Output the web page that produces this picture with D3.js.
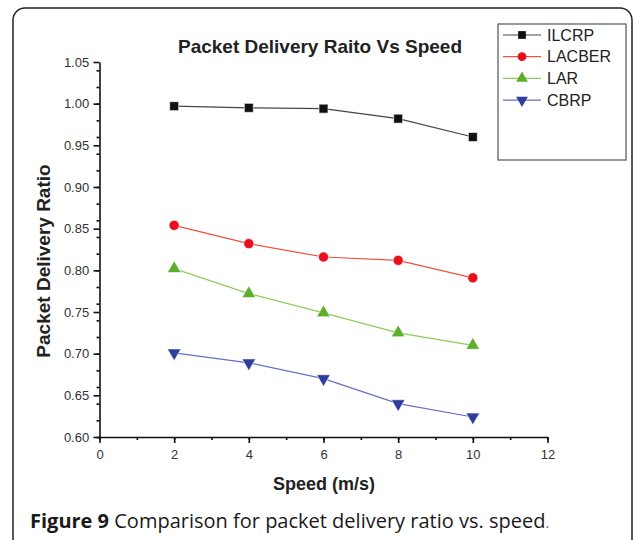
<!DOCTYPE html>
<html lang="en">
<head>
<meta charset="UTF-8">
<title>Packet Delivery Ratio Vs Speed</title>
<style>
  html, body { margin: 0; padding: 0; background: #fff; }
  svg { display: block; }
</style>
</head>
<body>
<svg id="chart" width="634" height="540"></svg>
<script src="https://cdn.jsdelivr.net/npm/d3@7"></script>
<script>
// data
var speeds = [2, 4, 6, 8, 10];
var ilcrp  = [0.997, 0.995, 0.994, 0.982, 0.960];
var lacber = [0.854, 0.832, 0.816, 0.812, 0.791];
var lar    = [0.802, 0.772, 0.749, 0.725, 0.710];
var cbrp   = [0.701, 0.689, 0.670, 0.640, 0.624];
var seriesNames = ["ILCRP", "LACBER", "LAR", "CBRP"];
var xTicks = [0, 2, 4, 6, 8, 10, 12];
var yTicks = [0.60, 0.65, 0.70, 0.75, 0.80, 0.85, 0.90, 0.95, 1.00, 1.05];

var series = [
  {name: seriesNames[0], values: ilcrp,  line: "#444", fill: "#111", sym: d3.symbolSquare},
  {name: seriesNames[1], values: lacber, line: "#f0503c", fill: "#e8101c", sym: d3.symbolCircle},
  {name: seriesNames[2], values: lar,    line: "#8ccc5a", fill: "#5cae2c", sym: d3.symbolTriangle},
  {name: seriesNames[3], values: cbrp,   line: "#6470c0", fill: "#2e3e9a", sym: "down"}
];

var svg = d3.select("#chart");
var font = "Liberation Sans, Arial, sans-serif";

// rounded figure frame
svg.append("rect")
  .attr("x", 13).attr("y", 8)
  .attr("width", 619).attr("height", 545)
  .attr("rx", 12)
  .attr("fill", "none")
  .attr("stroke", "#222")
  .attr("stroke-width", 1.5);

var x = d3.scaleLinear().domain([0, 12]).range([99.5, 547.5]);
var y = d3.scaleLinear().domain([0.60, 1.05]).range([437, 62]);

// minor ticks
svg.append("g")
  .attr("transform", "translate(0,437)")
  .call(d3.axisBottom(x).ticks(12).tickSize(3).tickFormat(""))
  .call(function (g) { g.select(".domain").remove(); });
svg.append("g")
  .attr("transform", "translate(99.5,0)")
  .call(d3.axisLeft(y).ticks(18).tickSize(3).tickFormat(""))
  .call(function (g) { g.select(".domain").remove(); });

var xAxis = svg.append("g")
  .attr("transform", "translate(0,437)")
  .call(d3.axisBottom(x).tickValues(xTicks).tickSize(6).tickSizeOuter(0).tickFormat(d3.format("d")));
var yAxis = svg.append("g")
  .attr("transform", "translate(99.5,0)")
  .call(d3.axisLeft(y).tickValues(yTicks).tickSize(6).tickSizeOuter(0).tickFormat(d3.format(".2f")));

svg.selectAll(".tick line, .domain").attr("stroke", "#111").attr("stroke-width", 1.6);
xAxis.selectAll("text").attr("font-family", font)
  .attr("font-size", 13).attr("fill", "#333").attr("dy", "1.0em");
yAxis.selectAll("text").attr("font-family", font)
  .attr("font-size", 13).attr("fill", "#333").attr("dx", "-0.1em");

// lines and markers
var line = d3.line()
  .x(function (d, i) { return x(speeds[i]); })
  .y(function (d) { return y(d); });

function symbolPath(s, size) {
  if (s === "down") {
    return d3.symbol().type(d3.symbolTriangle).size(size)();
  }
  return d3.symbol().type(s).size(size)();
}

series.forEach(function (s) {
  svg.append("path")
    .datum(s.values)
    .attr("d", line)
    .attr("fill", "none")
    .attr("stroke", s.line)
    .attr("stroke-width", 1.2);

  svg.selectAll(null)
    .data(s.values)
    .enter().append("path")
    .attr("d", symbolPath(s.sym, 80))
    .attr("transform", function (d, i) {
      return "translate(" + x(speeds[i]) + "," + y(d) + ")" + (s.sym === "down" ? " rotate(180)" : "");
    })
    .attr("fill", s.fill)
    .attr("stroke", "#fff")
    .attr("stroke-width", 0.6);
});

// legend
var legend = svg.append("g");
legend.append("rect")
  .attr("x", 498).attr("y", 24).attr("width", 128).attr("height", 136)
  .attr("fill", "#fff").attr("stroke", "#555").attr("stroke-width", 1.2);

series.forEach(function (s, i) {
  var ly = 35 + i * 21.7;
  legend.append("line")
    .attr("x1", 503).attr("x2", 541).attr("y1", ly).attr("y2", ly)
    .attr("stroke", s.line).attr("stroke-width", 1.2);
  legend.append("path")
    .attr("d", symbolPath(s.sym, 60))
    .attr("transform", "translate(522," + ly + ")" + (s.sym === "down" ? " rotate(180)" : ""))
    .attr("fill", s.fill);
  legend.append("text")
    .attr("x", 547).attr("y", ly).attr("dy", "0.36em")
    .attr("font-family", font)
    .attr("font-size", 16).attr("fill", "#222")
    .text(s.name);
});

// titles
svg.append("text")
  .attr("x", 320).attr("y", 53)
  .attr("text-anchor", "middle")
  .attr("font-family", font)
  .attr("font-weight", "bold").attr("font-size", 19).attr("fill", "#222")
  .text("Packet Delivery Raito Vs Speed");

svg.append("text")
  .attr("x", 324).attr("y", 490)
  .attr("text-anchor", "middle")
  .attr("font-family", font)
  .attr("font-weight", "bold").attr("font-size", 18).attr("fill", "#222")
  .text("Speed (m/s)");

svg.append("text")
  .attr("transform", "translate(50,261) rotate(-90)")
  .attr("text-anchor", "middle")
  .attr("font-family", font)
  .attr("font-weight", "bold").attr("font-size", 19).attr("fill", "#222")
  .text("Packet Delivery Ratio");

// caption
var cap = svg.append("text")
  .attr("x", 30).attr("y", 528)
  .attr("font-family", "Open Sans, Noto Sans, sans-serif")
  .attr("font-size", 20).attr("fill", "#1a1a1a");
cap.append("tspan").attr("font-weight", "bold").text("Figure 9");
cap.append("tspan").text(" Comparison for packet delivery ratio vs. speed");
cap.append("tspan").attr("font-size", 14).attr("fill", "#666").text(".");
</script>
</body>
</html>
